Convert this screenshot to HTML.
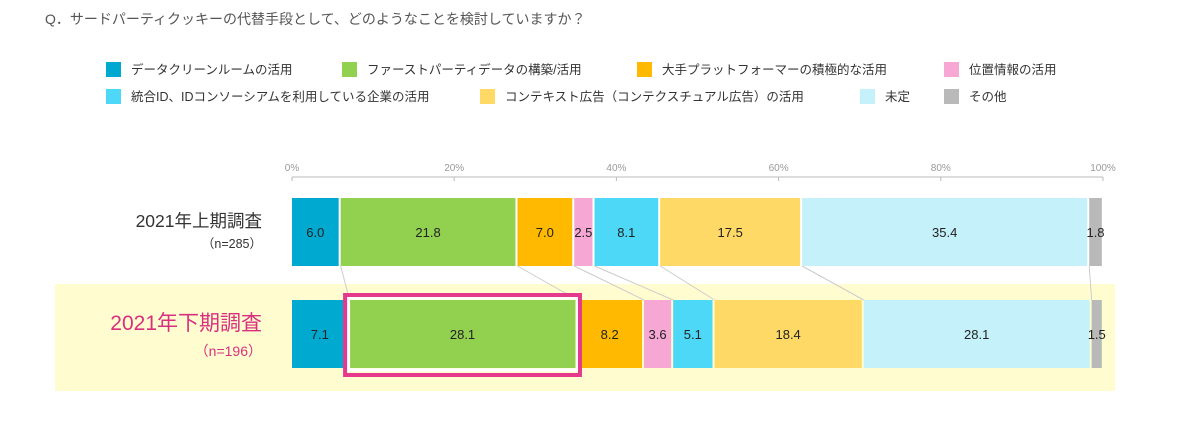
<!DOCTYPE html>
<html><head><meta charset="utf-8"><style>
body{margin:0;width:1200px;height:430px;background:#fff;font-family:"Liberation Sans","Noto Sans CJK JP",sans-serif;overflow:hidden;position:relative}
.t{position:absolute;white-space:nowrap}
</style></head><body>
<div class="t" style="left:45px;top:9px;font-size:14px;color:#555">Q．サードパーティクッキーの代替手段として、どのようなことを検討していますか？</div>
<svg id="chart" width="1200" height="430" style="position:absolute;left:0;top:0"></svg>
<script>
const categories=["データクリーンルームの活用","ファーストパーティデータの構築/活用","大手プラットフォーマーの積極的な活用","位置情報の活用","統合ID、IDコンソーシアムを利用している企業の活用","コンテキスト広告（コンテクスチュアル広告）の活用","未定","その他"];
const colors=["#00a9cf","#92d050","#ffb900","#f6a7d3","#4cd8f6","#ffd966","#c5f1fb","#b9b9b9"];
const seriesH1=[6.0,21.8,7.0,2.5,8.1,17.5,35.4,1.8];
const seriesH2=[7.1,28.1,8.2,3.6,5.1,18.4,28.1,1.5];
const ticks=[0,20,40,60,80,100];
const rowLabels=["2021年上期調査","2021年下期調査"];
const rowN=["（n=285）","（n=196）"];
const highlightIndex=1;

const NS="http://www.w3.org/2000/svg";
const svg=document.getElementById('chart');
const x0=292,x1=1103;
const xs=v=>x0+(x1-x0)*v/100;
function mk(t,a,p){const e=document.createElementNS(NS,t);for(const k in a)e.setAttribute(k,a[k]);(p||svg).appendChild(e);return e;}

const legPos=[[106,70],[342,70],[637,70],[944,70],[106,97],[480,97],[860,97],[944,97]];
categories.forEach((c,i)=>{
  const g=mk('g',{});
  
  
  mk('rect',{x:legPos[i][0],y:legPos[i][1]-8,width:15,height:15,fill:colors[i]},g);
  const t=mk('text',{x:legPos[i][0]+25,y:legPos[i][1]+4,'font-size':12.5,fill:'#333'},g);t.textContent=c;
});

const band=mk('rect',{x:55,y:284,width:1060,height:107,fill:'#fffdd0'});



const ax=mk('line',{x1:x0,y1:177,x2:x1,y2:177,stroke:'#bbb','stroke-width':1});


ticks.forEach(v=>{
  mk('line',{x1:xs(v),y1:177,x2:xs(v),y2:181,stroke:'#bbb'});
  const t=mk('text',{x:xs(v),y:171,'font-size':10,fill:'#999','text-anchor':'middle'});
  
  
  t.textContent=v+'%';
});

const rows=[{d:seriesH1,y:198,h:68},{d:seriesH2,y:300,h:68}];
let c1=0,c2=0;
for(let i=0;i<seriesH1.length-1;i++){
  c1+=seriesH1[i];c2+=seriesH2[i];
  mk('line',{x1:xs(c1),y1:266,x2:xs(c2),y2:300,stroke:'#ccc','stroke-width':1});
}
rows.forEach((r,ri)=>{
  let acc=0;
  r.d.forEach((v,i)=>{
    const a=xs(acc),b=xs(acc+v);acc+=v;
    const rc=mk('rect',{x:a,y:r.y,width:Math.max(0,b-a-2),height:r.h,fill:colors[i]});
    
    
    const t=mk('text',{x:(a+b-2)/2,y:r.y+r.h/2+5,'font-size':13,fill:'#222','text-anchor':'middle'});
    t.textContent=v.toFixed(1);
  });
  const hl=ri===highlightIndex;
  const l=mk('text',{x:262,y:hl?330:227,'font-size':hl?21:17.5,fill:hl?'#d8307f':'#333','text-anchor':'end'});
  
  
  l.textContent=rowLabels[ri];
  const n=mk('text',{x:262,y:hl?356:248,'font-size':hl?14:12.5,fill:hl?'#d8307f':'#333','text-anchor':'end'});
  n.textContent=rowN[ri];
});
const ga=xs(seriesH2[0]),gb=xs(seriesH2[0]+seriesH2[1]);
mk('rect',{x:ga-1,y:298,width:gb-ga+1,height:72,fill:'none',stroke:'#fff','stroke-width':3});
const hb=mk('rect',{x:ga-4.5,y:295,width:gb-ga+7,height:80,fill:'none',stroke:'#e5398e','stroke-width':4});


</script>
</body></html>
